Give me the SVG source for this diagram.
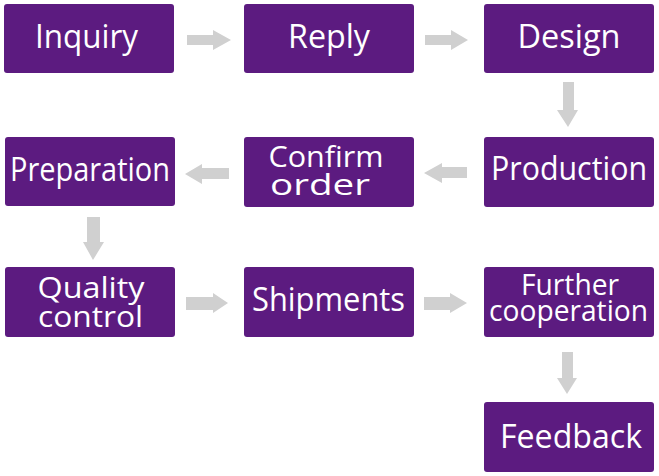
<svg xmlns="http://www.w3.org/2000/svg" width="659" height="476" viewBox="0 0 659 476">
<style>
.box{fill:#5c1b80;}
.t{fill:#ffffff;font-family:"Open Sans","Noto Sans",sans-serif;font-size:32px;text-anchor:middle;}
.t2{font-size:30px;}
.arr{fill:#d0d0d0;}
</style>
<rect width="659" height="476" fill="#ffffff"/>
<g id="connectors">
<path class="arr" d="M187,35 H213 V30 L231,40 L213,50 V45 H187 Z"/>
<path class="arr" d="M425,35 H451 V30 L468,40 L451,50 V45 H425 Z"/>
<path class="arr" d="M563,82 H574 V110 H578 L568,127 L557,110 H563 Z"/>
<path class="arr" d="M467,167 H442 V163 L424,173 L442,183 V178 H467 Z"/>
<path class="arr" d="M229,168 H202 V164 L185,174 L202,184 V179 H229 Z"/>
<path class="arr" d="M87,217 H100 V242 H104 L93,260 L83,242 H87 Z"/>
<path class="arr" d="M186,297 H213 V293 L228,303 L213,313 V310 H186 Z"/>
<path class="arr" d="M424,297 H450 V293 L467,303 L450,313 V310 H424 Z"/>
<path class="arr" d="M562,352 H573 V378 H577 L567,394 L557,378 H562 Z"/>
</g>
<g id="inquiry"><rect class="box" x="4" y="4" width="170" height="69" rx="3"/><text class="t" x="86.5" y="48" textLength="103" lengthAdjust="spacingAndGlyphs">Inquiry</text></g>
<g id="reply"><rect class="box" x="244" y="4" width="170" height="69" rx="3"/><text class="t" x="329" y="48" textLength="82" lengthAdjust="spacingAndGlyphs">Reply</text></g>
<g id="design"><rect class="box" x="484" y="4" width="170" height="69" rx="3"/><text class="t" x="569" y="48" textLength="103" lengthAdjust="spacingAndGlyphs">Design</text></g>
<g id="production"><rect class="box" x="484" y="137" width="170" height="70" rx="3"/><text class="t" x="569" y="180" textLength="156" lengthAdjust="spacingAndGlyphs">Production</text></g>
<g id="confirm-order"><rect class="box" x="244" y="137" width="170" height="70" rx="3"/><text class="t t2" x="326" y="167" textLength="115" lengthAdjust="spacingAndGlyphs">Confirm</text><text class="t t2" x="320" y="195" textLength="100" lengthAdjust="spacingAndGlyphs">order</text></g>
<g id="preparation"><rect class="box" x="5" y="137" width="170" height="69" rx="3"/><text class="t" x="90" y="181" textLength="160" lengthAdjust="spacingAndGlyphs">Preparation</text></g>
<g id="quality-control"><rect class="box" x="5" y="267" width="170" height="70" rx="3"/><text class="t t2" x="91" y="298" textLength="107" lengthAdjust="spacingAndGlyphs">Quality</text><text class="t t2" x="90.5" y="327" textLength="105" lengthAdjust="spacingAndGlyphs">control</text></g>
<g id="shipments"><rect class="box" x="244" y="267" width="170" height="70" rx="3"/><text class="t" x="328.5" y="311" textLength="153" lengthAdjust="spacingAndGlyphs">Shipments</text></g>
<g id="further-cooperation"><rect class="box" x="484" y="267" width="170" height="70" rx="3"/><text class="t t2" x="570" y="295" textLength="98" lengthAdjust="spacingAndGlyphs">Further</text><text class="t t2" x="568.5" y="321" textLength="159" lengthAdjust="spacingAndGlyphs">cooperation</text></g>
<g id="feedback"><rect class="box" x="484" y="402" width="170" height="70" rx="3"/><text class="t" x="571" y="448" textLength="142" lengthAdjust="spacingAndGlyphs">Feedback</text></g>
</svg>
